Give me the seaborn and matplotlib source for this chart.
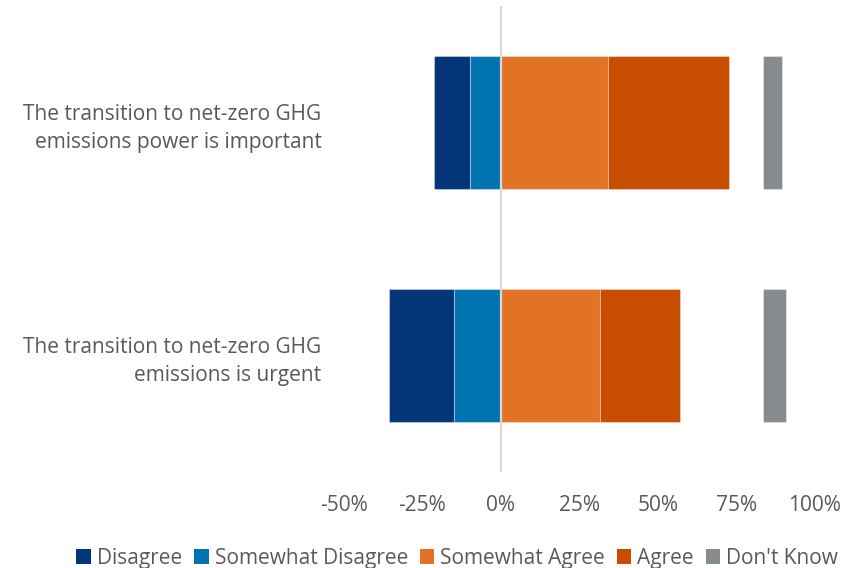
import numpy as np
import pandas as pd
import seaborn as sns
import matplotlib.pyplot as plt
from matplotlib.patches import Patch

# Survey responses, percent of respondents
statements = ["The transition to net-zero GHG\nemissions power is important",
              "The transition to net-zero GHG\nemissions is urgent"]
disagree = [11.5, 20.8]
somewhat_disagree = [9.7, 14.9]
somewhat_agree = [34.1, 31.5]
agree = [38.5, 25.6]
dont_know = [6.1, 7.2]

tick_values = [-50, -25, 0, 25, 50, 75, 100]

colors = {
    "Disagree": "#023678",
    "Somewhat Disagree": "#0273B1",
    "Somewhat Agree": "#E27224",
    "Agree": "#C84D00",
    "Don't Know": "#888B8D",
}
dk_start = 83.5  # Don't Know column sits apart from the diverging bars

sd = np.array(somewhat_disagree)
d = np.array(disagree)
sa = np.array(somewhat_agree)

# build long table with left edge + width for each segment
rows = []
for i, s in enumerate(statements):
    rows.append((s, "Disagree", -(sd[i] + d[i]), d[i]))
    rows.append((s, "Somewhat Disagree", -sd[i], sd[i]))
    rows.append((s, "Somewhat Agree", 0, sa[i]))
    rows.append((s, "Agree", sa[i], agree[i]))
    rows.append((s, "Don't Know", dk_start, dont_know[i]))
df = pd.DataFrame(rows, columns=["statement", "response", "left", "width"])

sns.set_theme(style="white")
plt.rcParams['font.family'] = ['Open Sans', 'DejaVu Sans']

fig = plt.figure(figsize=(8.58, 5.68), dpi=100)
ax = fig.add_axes([0.4006, 0.1697, 0.5490, 0.8197])

for resp, col in colors.items():
    sub = df[df["response"] == resp]
    sns.barplot(data=sub, y="statement", x="width", left=sub["left"].to_numpy(),
                order=statements, color=col, width=0.571, ax=ax,
                edgecolor=(1, 1, 1, 0.35), linewidth=0.8, saturation=1,
                errorbar=None)

ax.axvline(0, color="#D9D9D9", lw=1.6, zorder=5)

ax.set_xlim(-50, 100)
ax.set_xticks(tick_values)
ax.set_xticklabels([f"{v}%" for v in tick_values])
ax.set_xlabel("")
ax.set_ylabel("")
ax.tick_params(axis="x", length=0, pad=17, labelsize=15, labelcolor="#595959")
ax.tick_params(axis="y", length=0, pad=16, labelsize=15, labelcolor="#595959")
for lab in ax.get_yticklabels():
    lab.set_horizontalalignment("right")
    lab.set_multialignment("right")
    lab.set_linespacing(1.45)
sns.despine(ax=ax, left=True, bottom=True)

handles = [Patch(facecolor=c, edgecolor="none", label=k) for k, c in colors.items()]
leg = fig.legend(handles=handles, loc="center", bbox_to_anchor=(0.533, 0.017), ncol=5,
                 frameon=False, fontsize=15, handlelength=0.7, handleheight=0.7,
                 handletextpad=0.3, columnspacing=0.55, labelcolor="#595959")

fig.savefig("out.png", dpi=100)
